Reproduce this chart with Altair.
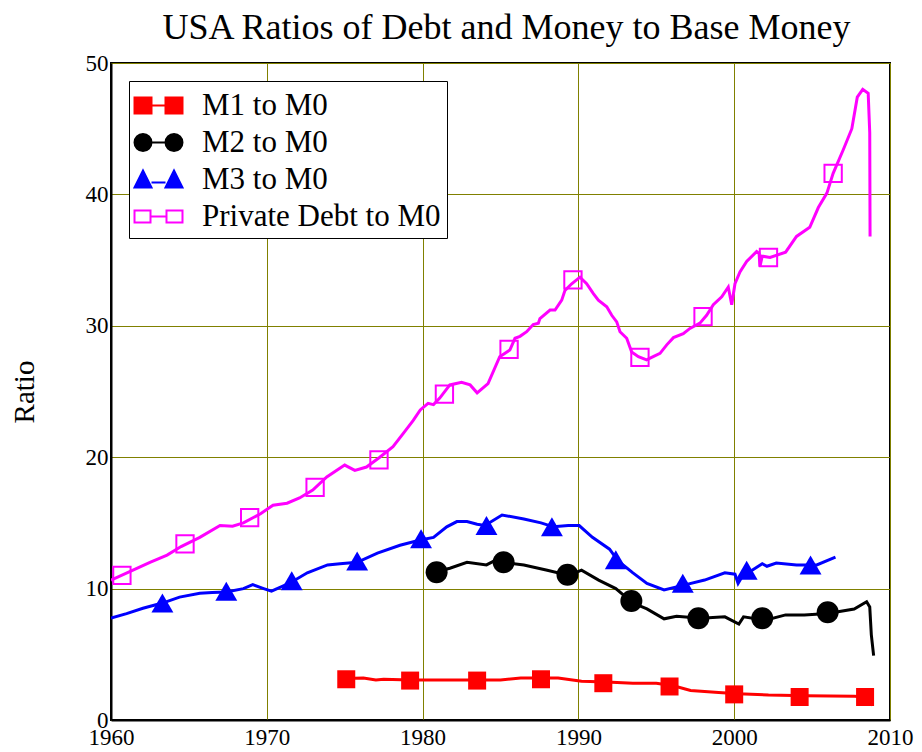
import altair as alt
import pandas as pd

# ---------------- data ----------------
series_names = ["M1 to M0", "M2 to M0", "M3 to M0", "Private Debt to M0"]

debt_year = [1960.0, 1961.2, 1962.5, 1963.6, 1964.5, 1965.7, 1967.0, 1967.8, 1968.5, 1969.6,
             1970.4, 1971.3, 1972.1, 1972.95, 1973.85, 1975.0, 1975.65, 1976.4, 1977.25, 1978.1,
             1978.75, 1979.4, 1979.85, 1980.35, 1980.7, 1981.1, 1981.75, 1982.5, 1983.05, 1983.5,
             1984.2, 1984.95, 1985.6, 1985.93, 1986.25, 1986.68, 1987.1, 1987.43, 1987.53, 1988.18,
             1988.5, 1988.93, 1989.14, 1989.57, 1990.1, 1990.53, 1990.96, 1991.28, 1991.82, 1992.14,
             1992.46, 1992.67, 1993.1, 1993.42, 1993.85, 1994.38, 1994.8, 1995.24, 1995.67, 1996.1,
             1996.73, 1997.16, 1997.8, 1998.23, 1998.66, 1999.2, 1999.62, 1999.84, 2000.05, 2000.37,
             2000.8, 2001.44, 2001.6, 2001.65, 2001.8, 2002.3, 2003.3, 2004.0, 2004.85, 2005.4,
             2005.95, 2006.35, 2007.0, 2007.55, 2007.9, 2008.25, 2008.6, 2008.7, 2008.72]
debt_ratio = [10.65, 11.3, 12.0, 12.55, 13.2, 13.9, 14.8, 14.75, 15.0, 15.7,
              16.35, 16.5, 16.9, 17.5, 18.5, 19.4, 19.0, 19.25, 20.0, 20.8,
              21.8, 22.8, 23.6, 24.1, 24.0, 24.5, 25.5, 25.7, 25.5, 24.9,
              25.6, 27.65, 28.15, 29.05, 29.2, 29.55, 30.1, 30.2, 30.55, 31.2,
              31.2, 31.95, 32.7, 33.2, 33.7, 33.2, 32.45, 31.95, 31.45, 30.8,
              30.3, 29.55, 29.05, 28.0, 27.65, 27.4, 27.65, 27.9, 28.55, 29.1,
              29.4, 29.8, 30.2, 30.8, 31.6, 32.2, 32.95, 31.6, 33.2, 34.1,
              34.9, 35.65, 35.5, 34.5, 35.3, 35.2, 35.6, 36.8, 37.5, 39.0,
              40.1, 41.6, 43.4, 45.0, 47.4, 48.0, 47.7, 44.7, 36.8]
debt_mark_year = [1960.7, 1964.75, 1968.9, 1973.1, 1977.2, 1981.4, 1985.55, 1989.65, 1993.95, 1998.0, 2002.2, 2006.35]
debt_mark_ratio = [11.0, 13.4, 15.4, 17.7, 19.8, 24.8, 28.2, 33.5, 27.6, 30.7, 35.2, 41.6]

m3_year = [1960.0, 1961.0, 1962.05, 1963.3, 1964.4, 1965.7, 1966.5, 1967.4, 1968.5, 1969.1,
           1969.8, 1970.3, 1970.85, 1971.6, 1972.6, 1973.9, 1974.7, 1975.8, 1977.1, 1978.55,
           1979.85, 1980.7, 1981.55, 1982.2, 1982.85, 1983.5, 1984.0, 1985.1, 1986.5, 1987.6,
           1988.4, 1989.35, 1990.05, 1990.9, 1992.0, 1992.55, 1993.5, 1994.4, 1995.5, 1996.9,
           1998.1, 1999.4, 2000.05, 2000.25, 2000.55, 2001.15, 2001.8, 2002.1, 2002.7, 2004.0,
           2005.3, 2006.5]
m3_ratio = [7.75, 8.1, 8.5, 8.9, 9.35, 9.65, 9.7, 9.75, 10.0, 10.3,
            10.0, 9.8, 10.1, 10.5, 11.2, 11.8, 11.9, 12.0, 12.7, 13.3,
            13.7, 13.9, 14.7, 15.1, 15.1, 14.9, 14.8, 15.6, 15.3, 15.0,
            14.7, 14.8, 14.8, 13.9, 13.0, 12.1, 11.2, 10.4, 9.9, 10.3,
            10.65, 11.2, 11.1, 10.4, 11.0, 11.4, 11.9, 11.7, 11.95, 11.8,
            11.8, 12.4]
m3_mark_year = [1963.3, 1967.4, 1971.6, 1975.8, 1979.9, 1984.1, 1988.3, 1992.4, 1996.7, 2000.8, 2004.9]
m3_mark_ratio = [8.9, 9.8, 10.6, 12.1, 13.8, 14.8, 14.7, 12.2, 10.4, 11.4, 11.8]

m2_year = [1980.9, 1981.75, 1982.85, 1984.1, 1984.75, 1985.2, 1986.5, 1988.0, 1989.4, 1990.2,
           1991.3, 1992.4, 1993.5, 1994.4, 1995.5, 1996.3, 1997.85, 1999.4, 2000.3, 2000.6,
           2002.0, 2003.3, 2004.5, 2006.0, 2007.7, 2008.5, 2008.7, 2008.8, 2008.95]
m2_ratio = [11.3, 11.55, 12.0, 11.8, 12.2, 12.0, 11.8, 11.4, 11.0, 11.4,
            10.65, 10.0, 8.9, 8.45, 7.7, 7.9, 7.75, 7.85, 7.3, 7.85,
            7.6, 8.0, 8.0, 8.1, 8.45, 9.0, 8.6, 6.5, 4.9]
m2_mark_year = [1980.9, 1985.2, 1989.3, 1993.4, 1997.7, 2001.8, 2006.0]
m2_mark_ratio = [11.25, 12.0, 11.05, 9.05, 7.75, 7.75, 8.2]

m1_year = [1975.0, 1976.2, 1977.0, 1977.5, 1979.2, 1983.5, 1985.0, 1986.3, 1987.6, 1988.7,
           1990.2, 1991.8, 1993.5, 1995.0, 1996.1, 1997.2, 1999.0, 2000.25, 2002.2, 2004.6,
           2007.7, 2008.5, 2008.7, 2008.9]
m1_ratio = [3.15, 3.2, 3.05, 3.1, 3.05, 3.05, 3.05, 3.2, 3.2, 3.2,
            2.95, 2.9, 2.8, 2.8, 2.6, 2.25, 2.1, 2.0, 1.9, 1.85,
            1.8, 1.75, 1.5, 1.1]
m1_mark_year = [1975.1, 1979.2, 1983.5, 1987.6, 1991.6, 1995.85, 2000.0, 2004.2, 2008.4]
m1_mark_ratio = [3.1, 3.0, 3.0, 3.1, 2.8, 2.55, 1.95, 1.75, 1.75]

x_ticks = [1960, 1970, 1980, 1990, 2000, 2010]
y_ticks = [0, 10, 20, 30, 40, 50]

# ---------------- styling ----------------
FONT = "Liberation Serif"
line_colors = ["#ff0000", "#000000", "#0000ff", "#ff00ff"]
legend_fills = ["#ff0000", "#000000", "#0000ff", "#ffffff"]
legend_strokes = ["#ff0000", "#000000", "#0000ff", "#ff00ff"]

# legend glyphs ("marker - line - marker"), described in pixels and scaled to Vega's unit symbol
SYM_SIZE = 1225          # sqrt -> 35 px nominal symbol box
U = 17.5                 # pixels per symbol-path unit (sqrt(size) / 2)


def _p(x, y):
    return f"{x / U:.3f},{y / U:.3f}"


def poly(pts):
    return "M" + "L".join(_p(x, y) for x, y in pts) + "Z"


def seg(x1, x2, y):
    return f"M{_p(x1, y)}L{_p(x2, y)}"


def circ(cx, r):
    k = 0.5523 * r
    return (f"M{_p(cx + r, 0)}"
            f"C{_p(cx + r, k)} {_p(cx + k, r)} {_p(cx, r)}"
            f"C{_p(cx - k, r)} {_p(cx - r, k)} {_p(cx - r, 0)}"
            f"C{_p(cx - r, -k)} {_p(cx - k, -r)} {_p(cx, -r)}"
            f"C{_p(cx + k, -r)} {_p(cx + r, -k)} {_p(cx + r, 0)}Z")


legend_paths = [
    poly([(-24, -8), (-7, -8), (-7, 8), (-24, 8)]) + poly([(7, -8), (24, -8), (24, 8), (7, 8)]) + seg(-7, 7, 0),
    circ(-15.5, 8.5) + circ(15.5, 8.5) + seg(-7, 7, 0),
    poly([(-24, 8), (-15.5, -9), (-7, 8)]) + poly([(7, 8), (15.5, -9), (24, 8)]) + seg(-7, 7, 3),
    poly([(-24, -6), (-8, -6), (-8, 6), (-24, 6)]) + poly([(8, -6), (24, -6), (24, 6), (8, 6)]) + seg(-8, 8, 0),
]

x_enc = alt.X("year:Q", scale=alt.Scale(domain=[1960, 2010], nice=False, zero=False),
              axis=alt.Axis(values=x_ticks, format="d", title=None, labelPadding=6,
                            labelFlush=False, labelOverlap=False))
y_enc = alt.Y("ratio:Q", scale=alt.Scale(domain=[0, 50], nice=False),
              axis=alt.Axis(values=y_ticks, title="Ratio", labelPadding=3, titlePadding=46,
                            labelFlush=False, labelOverlap=False))


def line_layer(xs, ys, colour):
    return alt.Chart(pd.DataFrame({"year": xs, "ratio": ys})).mark_line(
        strokeWidth=3, color=colour, clip=True).encode(x=x_enc, y=y_enc)


m1_line = line_layer(m1_year, m1_ratio, line_colors[0])
m2_line = line_layer(m2_year, m2_ratio, line_colors[1])
m3_line = line_layer(m3_year, m3_ratio, line_colors[2])
debt_line = line_layer(debt_year, debt_ratio, line_colors[3])

m1_pts = alt.Chart(pd.DataFrame({"year": m1_mark_year, "ratio": m1_mark_ratio})).mark_point(
    shape="square", filled=True, color="#ff0000", size=324, opacity=1).encode(x="year:Q", y="ratio:Q")
m2_pts = alt.Chart(pd.DataFrame({"year": m2_mark_year, "ratio": m2_mark_ratio})).mark_point(
    shape="circle", filled=True, color="#000000", size=484, opacity=1).encode(x="year:Q", y="ratio:Q")
m3_pts = alt.Chart(pd.DataFrame({"year": m3_mark_year, "ratio": m3_mark_ratio})).mark_point(
    shape="triangle-up", filled=True, color="#0000ff", size=480, opacity=1).encode(x="year:Q", y="ratio:Q")
debt_pts = alt.Chart(pd.DataFrame({"year": debt_mark_year, "ratio": debt_mark_ratio})).mark_point(
    shape="square", filled=False, color="#ff00ff", size=300, strokeWidth=2, opacity=1).encode(x="year:Q", y="ratio:Q")

leg = alt.Legend(title=None, orient="top-left", offset=18, strokeColor="#000000",
                 fillColor="#ffffff", padding=6, rowPadding=3, labelFont=FONT, labelFontSize=31,
                 labelColor="#000000", labelOffset=25, symbolOffset=5, symbolSize=SYM_SIZE,
                 symbolStrokeWidth=2, labelLimit=400)
legend_df = pd.DataFrame({"series": series_names, "year": [1900] * 4, "ratio": [0] * 4})
legend_layer = alt.Chart(legend_df).mark_point(filled=True, opacity=1, strokeWidth=2, size=SYM_SIZE, clip=True).encode(
    x="year:Q", y="ratio:Q",
    shape=alt.Shape("series:N", scale=alt.Scale(domain=series_names, range=legend_paths), legend=leg),
    fill=alt.Fill("series:N", scale=alt.Scale(domain=series_names, range=legend_fills), legend=leg),
    stroke=alt.Stroke("series:N", scale=alt.Scale(domain=series_names, range=legend_strokes), legend=leg),
)

chart = alt.layer(m1_line, m2_line, m3_line, debt_line, m1_pts, m2_pts, m3_pts, debt_pts, legend_layer).properties(
    width=779, height=657,
    title=alt.Title("USA Ratios of Debt and Money to Base Money", font=FONT, fontSize=36,
                    fontWeight="normal", color="#000000", anchor="middle", offset=5, dx=6),
    autosize=alt.AutoSizeParams(type="none"),
    padding={"left": 103, "top": 55, "right": 24, "bottom": 28},
).configure_view(stroke="#000000", strokeWidth=2).configure_axis(
    labelFont=FONT, labelFontSize=23, labelColor="#000000",
    titleFont=FONT, titleFontSize=29, titleFontWeight="normal", titleColor="#000000",
    gridColor="#808000", gridWidth=1, gridOpacity=1,
    domain=True, domainColor="#000000", domainWidth=2, ticks=False,
)

chart.save("out.html", embed_options={"renderer": "svg", "actions": False})
